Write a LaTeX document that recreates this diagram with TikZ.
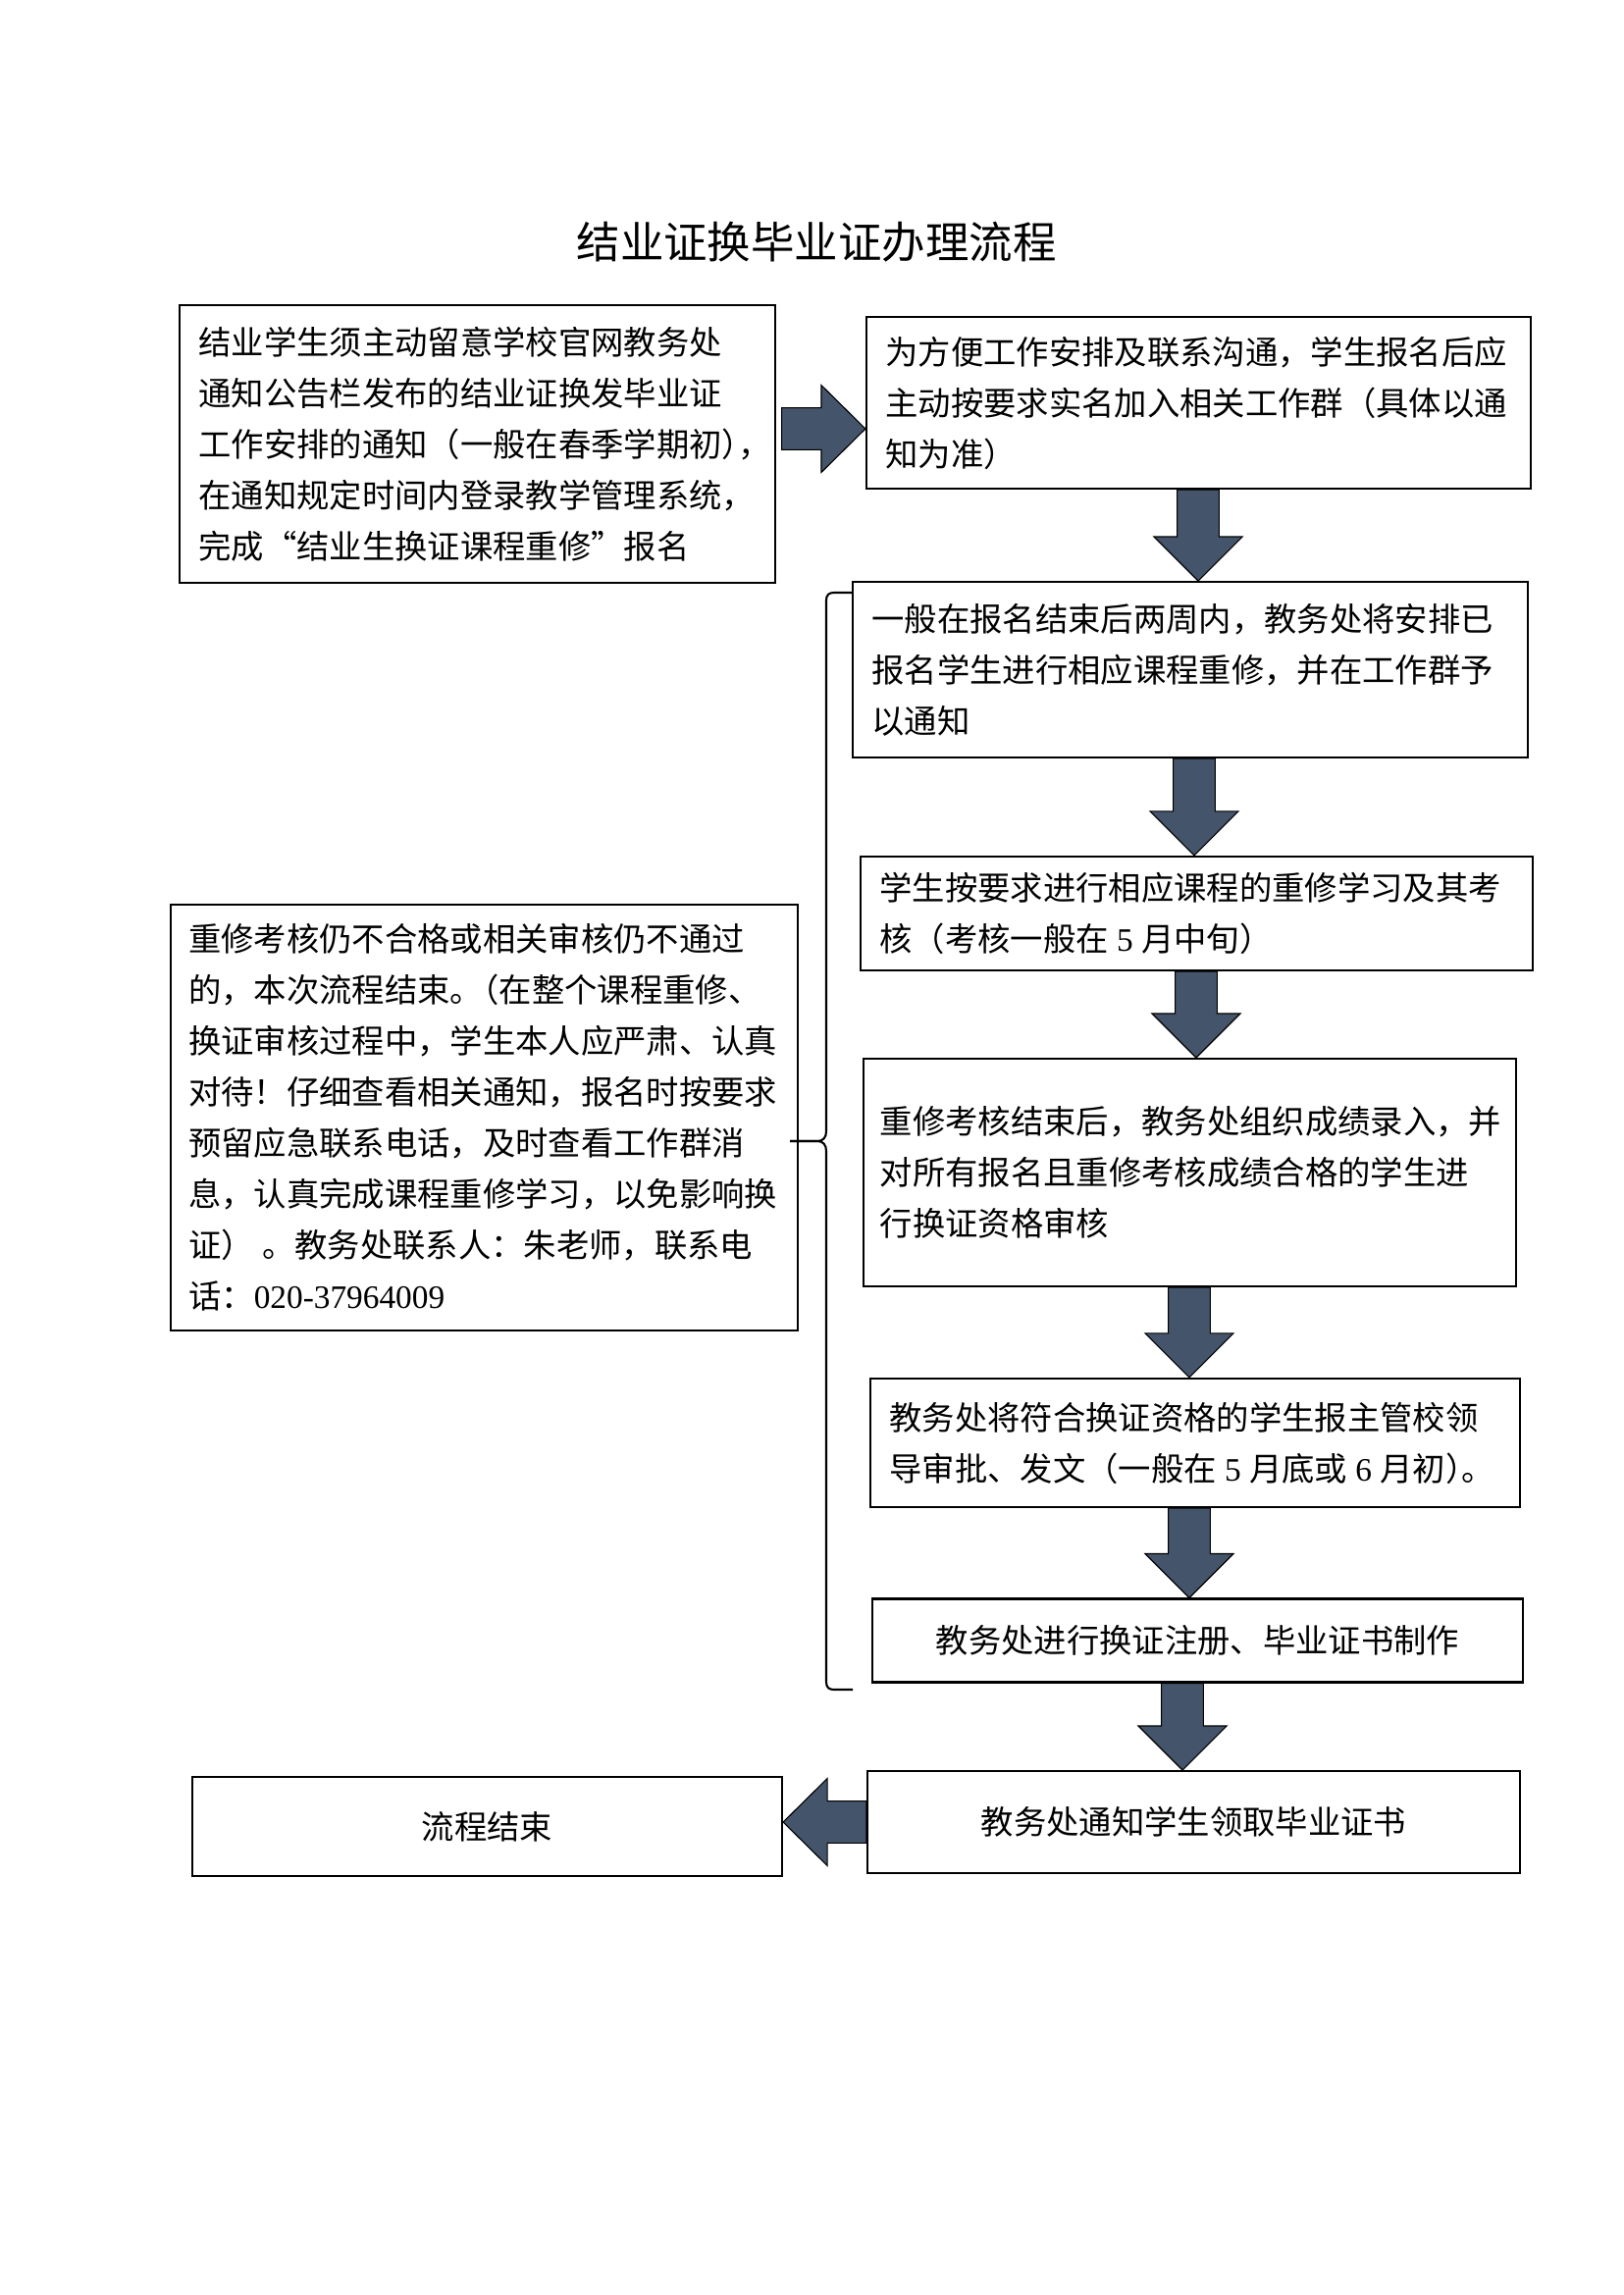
\documentclass[tikz,border=0pt]{standalone}
\usepackage{fontspec}
\setmainfont{Noto Sans CJK SC}
\newfontfamily\lat{Liberation Serif}
\usetikzlibrary{calc}
\definecolor{arrowfill}{HTML}{44546A}
\tikzset{
  box/.style={draw=black, line width=0.75pt, rectangle, inner ysep=2pt,
    font=\fontsize{12pt}{18.7pt}\selectfont},
  lbox/.style={box, align=left, inner xsep=7pt},
  cbox/.style={box, align=center},
  blockarrow/.style={fill=arrowfill, draw=black, line width=0.4pt, line join=miter},
  bracket/.style={draw=black, line width=0.75pt},
  titletext/.style={font=\fontsize{16pt}{20pt}\selectfont}
}
\newcommand\num[1]{\kern3pt{\lat #1}\kern3pt}
\newcommand\arrdown[2]{\filldraw[blockarrow] let \p1=(#1), \p2=(#2) in
  ({\x1-7.7pt},\y1) -- ({\x1+7.7pt},\y1) -- ({\x1+7.7pt},{\y2+16.2pt}) --
  ({\x1+16.2pt},{\y2+16.2pt}) -- (\x1,\y2) -- ({\x1-16.2pt},{\y2+16.2pt}) --
  ({\x1-7.7pt},{\y2+16.2pt}) -- cycle;}
\newcommand\arrright[2]{\filldraw[blockarrow] let \p1=(#1), \p2=(#2) in
  (\x1,{\y1+7.7pt}) -- ({\x2-16.2pt},{\y1+7.7pt}) -- ({\x2-16.2pt},{\y1+16pt}) --
  (\x2,\y1) -- ({\x2-16.2pt},{\y1-16pt}) -- ({\x2-16.2pt},{\y1-7.7pt}) --
  (\x1,{\y1-7.7pt}) -- cycle;}
\newcommand\arrleft[2]{\filldraw[blockarrow] let \p1=(#1), \p2=(#2) in
  (\x1,{\y1+7.7pt}) -- ({\x2+16.2pt},{\y1+7.7pt}) -- ({\x2+16.2pt},{\y1+16pt}) --
  (\x2,\y1) -- ({\x2+16.2pt},{\y1-16pt}) -- ({\x2+16.2pt},{\y1-7.7pt}) --
  (\x1,{\y1-7.7pt}) -- cycle;}
\begin{document}
\begin{tikzpicture}[x=0.36pt,y=-0.36pt]
\useasboundingbox (0,0) rectangle (1654,2339);
\fill[white] (0,0) rectangle (1654,2339);

\node[titletext] (title) at (832,247) {结业证换毕业证办理流程};

\node[lbox, minimum width=218.5pt, minimum height=101.9pt, text width=204.5pt] (A) at (486.5,452.5)
{结业学生须主动留意学校官网教务处\\
通知公告栏发布的结业证换发毕业证\\
工作安排的通知（一般在春季学期初）\kern-6pt，\\
在通知规定时间内登录教学管理系统，\\
完成“结业生换证课程重修”报名};

\node[lbox, minimum width=243.7pt, minimum height=63pt, text width=229.7pt] (B) at (1221.5,410.5)
{为方便工作安排及联系沟通，学生报名后应\\
主动按要求实名加入相关工作群（具体以通\\
知为准）};

\node[lbox, minimum width=247.7pt, minimum height=64.4pt, text width=233.7pt] (C) at (1213,682.5)
{一般在报名结束后两周内，教务处将安排已\\
报名学生进行相应课程重修，并在工作群予\\
以通知};

\node[lbox, minimum width=246.6pt, minimum height=41.8pt, text width=232.6pt] (E) at (1219.5,931)
{学生按要求进行相应课程的重修学习及其考\\
核（考核一般在\num{5}月中旬）};

\node[lbox, inner xsep=6pt, minimum width=239.4pt, minimum height=83.5pt, text width=227.4pt] (F) at (1212.5,1195)
{重修考核结束后，教务处组织成绩录入，并\\
对所有报名且重修考核成绩合格的学生进\\
行换证资格审核};

\node[lbox, minimum width=238.3pt, minimum height=47.2pt, text width=224.3pt] (G) at (1218,1470.5)
{教务处将符合换证资格的学生报主管校领\\
导审批、发文（一般在\num{5}月底或\num{6}月初）\kern-6pt。};

\node[cbox, minimum width=238.7pt, minimum height=30.6pt] (H) at (1220.5,1672)
{教务处进行换证注册、毕业证书制作};

\node[cbox, minimum width=239.4pt, minimum height=37.4pt] (I) at (1216.5,1857)
{教务处通知学生领取毕业证书};

\node[cbox, minimum width=216.4pt, minimum height=36.4pt] (J) at (496.5,1861.5)
{流程结束};

\node[lbox, inner xsep=6.5pt, minimum width=230pt, minimum height=156.2pt, text width=217pt] (D) at (493.5,1139)
{重修考核仍不合格或相关审核仍不通过\\
的，本次流程结束。\kern-6pt（在整个课程重修、\\
换证审核过程中，学生本人应严肃、认真\\
对待！仔细查看相关通知，报名时按要求\\
预留应急联系电话，及时查看工作群消\\
息，认真完成课程重修学习，以免影响换\\
证）\kern3pt。教务处联系人：朱老师，联系电\\
话：{\lat 020-37964009}};

% arrow positions
\coordinate (yAB) at (0,437);
\coordinate (cBC) at (1221,0);
\coordinate (cCE) at (1217,0);
\coordinate (cEF) at (1219,0);
\coordinate (cFG) at (1212,0);
\coordinate (cGH) at (1212,0);
\coordinate (cHI) at (1205,0);

\arrright{[xshift=2pt]A.east |- yAB}{B.west |- yAB}
\arrdown{B.south -| cBC}{C.north -| cBC}
\arrdown{C.south -| cCE}{E.north -| cCE}
\arrdown{E.south -| cEF}{F.north -| cEF}
\arrdown{F.south -| cFG}{G.north -| cFG}
\arrdown{G.south -| cGH}{H.north -| cGH}
\arrdown{H.south -| cHI}{I.north -| cHI}
\arrleft{I.west}{J.east |- I.west}

% brace
\coordinate (bt) at (869,604);
\coordinate (bb) at (869,1722);
\coordinate (tip) at (805,1163);
\draw[bracket] (bt) -- (850,604) .. controls (845,604) and (842,606) .. (842,612)
  -- (842,1153) .. controls (842,1159) and (839,1163) .. (833,1163) -- (tip);
\draw[bracket] (tip) -- (833,1163) .. controls (839,1163) and (842,1167) .. (842,1173)
  -- (842,1714) .. controls (842,1720) and (845,1722) .. (850,1722) -- (bb);
\end{tikzpicture}
\end{document}
